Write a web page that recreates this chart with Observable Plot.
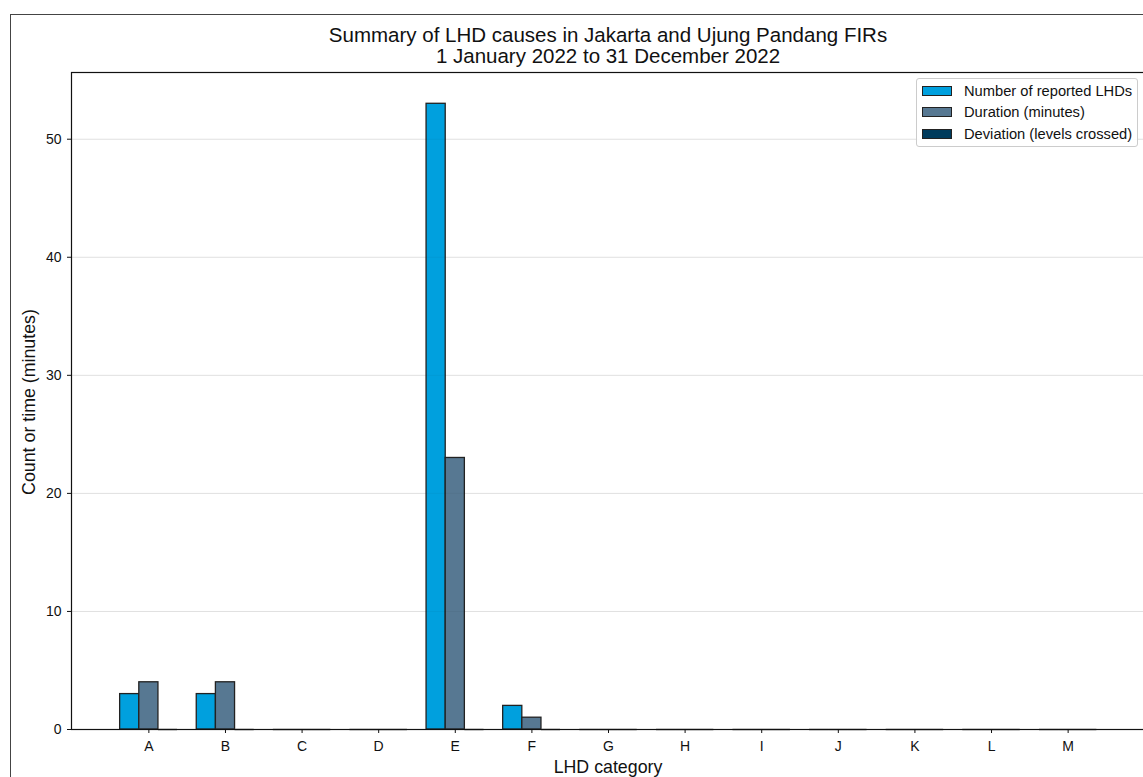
<!DOCTYPE html>
<html>
<head>
<meta charset="utf-8">
<script src="https://cdn.jsdelivr.net/npm/d3@7"></script>
<script src="https://cdn.jsdelivr.net/npm/@observablehq/plot@0.6"></script>
<style>
  html, body { margin: 0; padding: 0; background: #fff; overflow: hidden; }
  #page { position: relative; width: 1143px; height: 777px; overflow: hidden; font-family: "Liberation Sans", Arial, sans-serif; color: #111; }
  #figborder { position: absolute; left: 10px; top: 14px; width: 1200px; height: 800px; border: 1px solid #444; box-sizing: border-box; }
  #title { position: absolute; left: 71px; width: 1074px; top: 24px; text-align: center; font-size: 20.5px; line-height: 21px; }
  #chart { position: absolute; left: 0; top: 0; width: 1146px; height: 800px; }
  #chart svg { max-width: none; }
  #ylabel { position: absolute; left: 29px; top: 402px; transform: translate(-50%, -50%) rotate(-90deg); white-space: nowrap; font-size: 17.8px; }
  #xlabel { position: absolute; left: 608px; top: 767px; transform: translate(-50%, -50%); white-space: nowrap; font-size: 17.8px; }
  #legend { position: absolute; left: 916px; top: 78px; width: 222px; height: 69px; box-sizing: border-box; border: 1px solid #ccc; border-radius: 3px; background: rgba(255,255,255,0.9); padding: 1px 0 0 5px; font-size: 14.7px; }
  .row { display: flex; align-items: center; height: 21.5px; }
  .sw { width: 30px; height: 10px; border: 1px solid #222; box-sizing: border-box; margin-right: 12px; }
</style>
</head>
<body>
<div id="page">
  <div id="figborder"></div>
  <div id="chart"></div>
  <div id="title"></div>
  <div id="ylabel"></div>
  <div id="xlabel"></div>
  <div id="legend"></div>
</div>
<script>
const titleLines = ["Summary of LHD causes in Jakarta and Ujung Pandang FIRs", "1 January 2022 to 31 December 2022"];
const yLabel = "Count or time (minutes)";
const xLabel = "LHD category";
const categories = ["A","B","C","D","E","F","G","H","I","J","K","L","M"];
const series = ["Number of reported LHDs", "Duration (minutes)", "Deviation (levels crossed)"];
const reported  = [3, 3, 0, 0, 53, 2, 0, 0, 0, 0, 0, 0, 0];
const duration  = [4, 4, 0, 0, 23, 1, 0, 0, 0, 0, 0, 0, 0];
const deviation = [0, 0, 0, 0, 0, 0, 0, 0, 0, 0, 0, 0, 0];
const colors = ["#00a0de", "#577892", "#003b5c"];
const yTicks = [0, 10, 20, 30, 40, 50];
const yMax = 55.65;

const seriesValues = [reported, duration, deviation];
const data = categories.flatMap((c, i) => seriesValues.map((arr, j) => ({category: c, series: series[j], value: arr[i]})));

document.getElementById("title").innerHTML = titleLines.map(t => `<div>${t}</div>`).join("");
document.getElementById("ylabel").textContent = yLabel;
document.getElementById("xlabel").textContent = xLabel;
document.getElementById("legend").innerHTML = series.map((s, j) =>
  `<div class="row"><div class="sw" style="background:${colors[j]}"></div><span>${s}</span></div>`).join("");

const W = 1146, ML = 71, MR = 1, padOuter = 0.51;
const step = (W - ML - MR) / (categories.length + 2 * padOuter);
const barW = step / 4;  // three bars of a quarter band each, group centred on the tick

const marks = [
  Plot.gridY(yTicks.slice(1), {stroke: "#000", strokeOpacity: 0.09, strokeWidth: 1})
];
series.forEach((s, j) => {
  const left = step / 8 + j * barW;
  const right = step - left - barW;
  const rows = data.filter(d => d.series === s);
  marks.push(Plot.barY(rows, {x: "category", y: "value", fill: "series", stroke: "#222", strokeWidth: 1.3, insetLeft: left, insetRight: right}));
  marks.push(Plot.tickY(rows.filter(d => d.value === 0), {x: "category", y: "value", stroke: "#555", strokeWidth: 1.5, insetLeft: left, insetRight: right}));
});
marks.push(
  Plot.gridY(yTicks.slice(1), {stroke: "#000", strokeOpacity: 0.04, strokeWidth: 1}),
  Plot.frame({stroke: "#111", strokeWidth: 1.2}),
  Plot.axisX({tickSize: 4, tickPadding: 8, label: null, fontSize: 14}),
  Plot.axisY({ticks: yTicks, tickSize: 4, tickPadding: 6, label: null, fontSize: 14})
);

const chart = Plot.plot({
  width: W,
  height: 800,
  marginLeft: ML,
  marginRight: MR,
  marginTop: 72,
  marginBottom: 71,
  style: {fontFamily: '"Liberation Sans", Arial, sans-serif', fontSize: "14px", background: "transparent", color: "#111", maxWidth: "none"},
  x: {domain: categories, paddingInner: 0, paddingOuter: padOuter, round: false, label: null},
  y: {domain: [0, yMax], label: null},
  color: {domain: series, range: colors},
  marks
});
document.getElementById("chart").appendChild(chart);
</script>
</body>
</html>
